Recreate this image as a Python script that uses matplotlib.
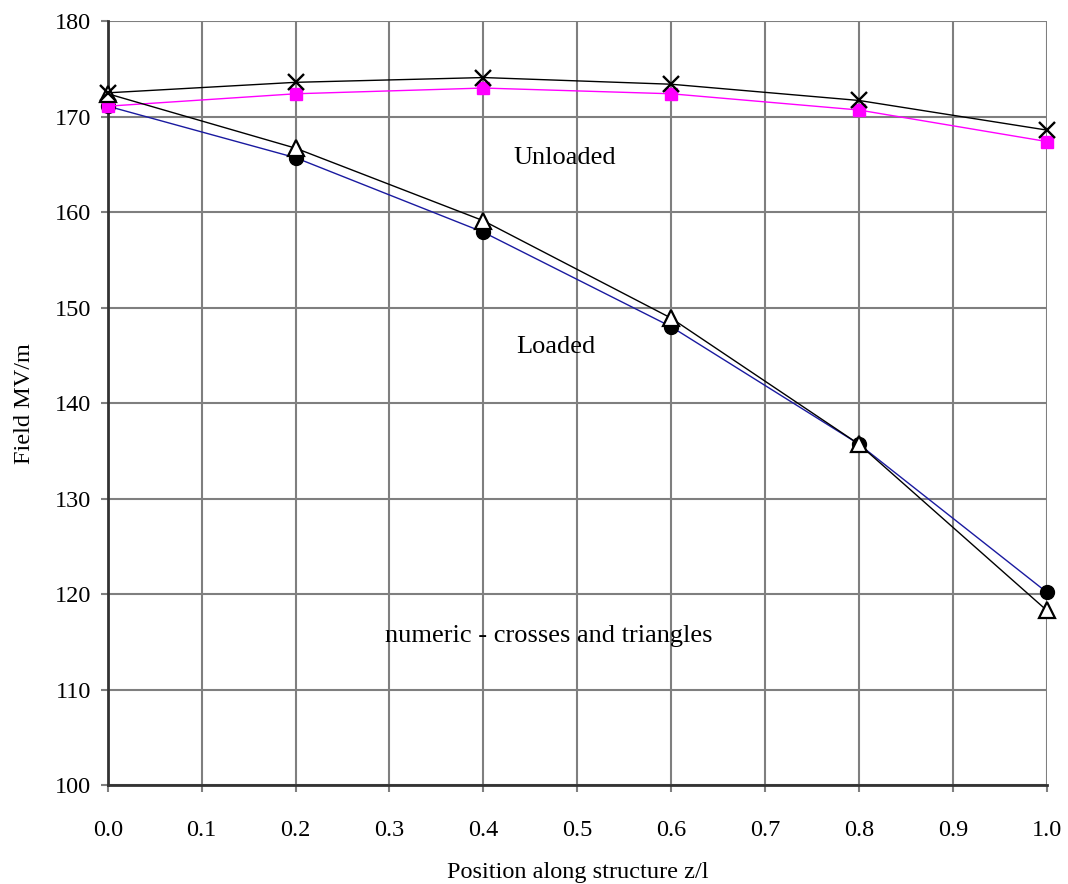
import matplotlib.pyplot as plt

plt.rcParams['font.family'] = ['Liberation Serif', 'DejaVu Serif']

# data
z = [0.0, 0.2, 0.4, 0.6, 0.8, 1.0]
unloaded_numeric = [172.5, 173.6, 174.1, 173.4, 171.7, 168.6]   # crosses
unloaded_theory = [171.1, 172.4, 173.0, 172.4, 170.7, 167.4]    # squares
loaded_numeric = [172.4, 166.7, 159.1, 148.9, 135.7, 118.3]     # triangles
loaded_theory = [171.1, 165.7, 157.9, 148.0, 135.7, 120.2]      # circles

xticks = [0.0, 0.1, 0.2, 0.3, 0.4, 0.5, 0.6, 0.7, 0.8, 0.9, 1.0]
yticks = [100, 110, 120, 130, 140, 150, 160, 170, 180]

fig = plt.figure(figsize=(10.68, 8.84), dpi=100)
ax = fig.add_axes([0.101, 0.112, 0.879, 0.864])

ax.plot(z, loaded_theory, color='#1a1aa0', lw=1, marker='o', ms=10,
        mfc='black', mec='black', zorder=3, clip_on=False)
ax.plot(z, loaded_numeric, color='black', lw=1, marker='^', ms=11,
        mfc='white', mec='black', mew=1.6, zorder=4, clip_on=False)
ax.plot(z, unloaded_theory, color='#ff00ff', lw=1, marker='s', ms=8,
        mfc='#ff00ff', mec='#ff00ff', zorder=3, clip_on=False)
ax.plot(z, unloaded_numeric, color='black', lw=1, marker='x', ms=11.5,
        mew=1.7, zorder=4, clip_on=False)

ax.text(0.487, 165.7, 'Unloaded', ha='center', va='center', fontsize=19)
ax.text(0.477, 145.9, 'Loaded', ha='center', va='center', fontsize=19)
ax.text(0.47, 115.6, 'numeric - crosses and triangles', ha='center',
        va='center', fontsize=19)

ax.set_xlim(0, 1)
ax.set_ylim(100, 180)
ax.set_xticks(xticks)
ax.set_xticklabels([f'{v:.1f}' for v in xticks])
ax.set_yticks(yticks)
ax.grid(True, color='#7f7f7f', lw=1.5)
ax.set_axisbelow(True)
ax.tick_params(labelsize=17.5, length=5, width=1.5, color='#7f7f7f',
               direction='out')
ax.tick_params(axis='y', pad=7)
ax.tick_params(axis='x', pad=20)

ax.spines['top'].set_visible(False)
ax.spines['right'].set_visible(False)
for s in ['left', 'bottom']:
    ax.spines[s].set_color('#333333')
    ax.spines[s].set_linewidth(2)

ax.set_xlabel('Position along structure z/l', fontsize=17.5, labelpad=15)
ax.set_ylabel('Field MV/m', fontsize=17.5, labelpad=14)

fig.savefig('out.png', dpi=100)
